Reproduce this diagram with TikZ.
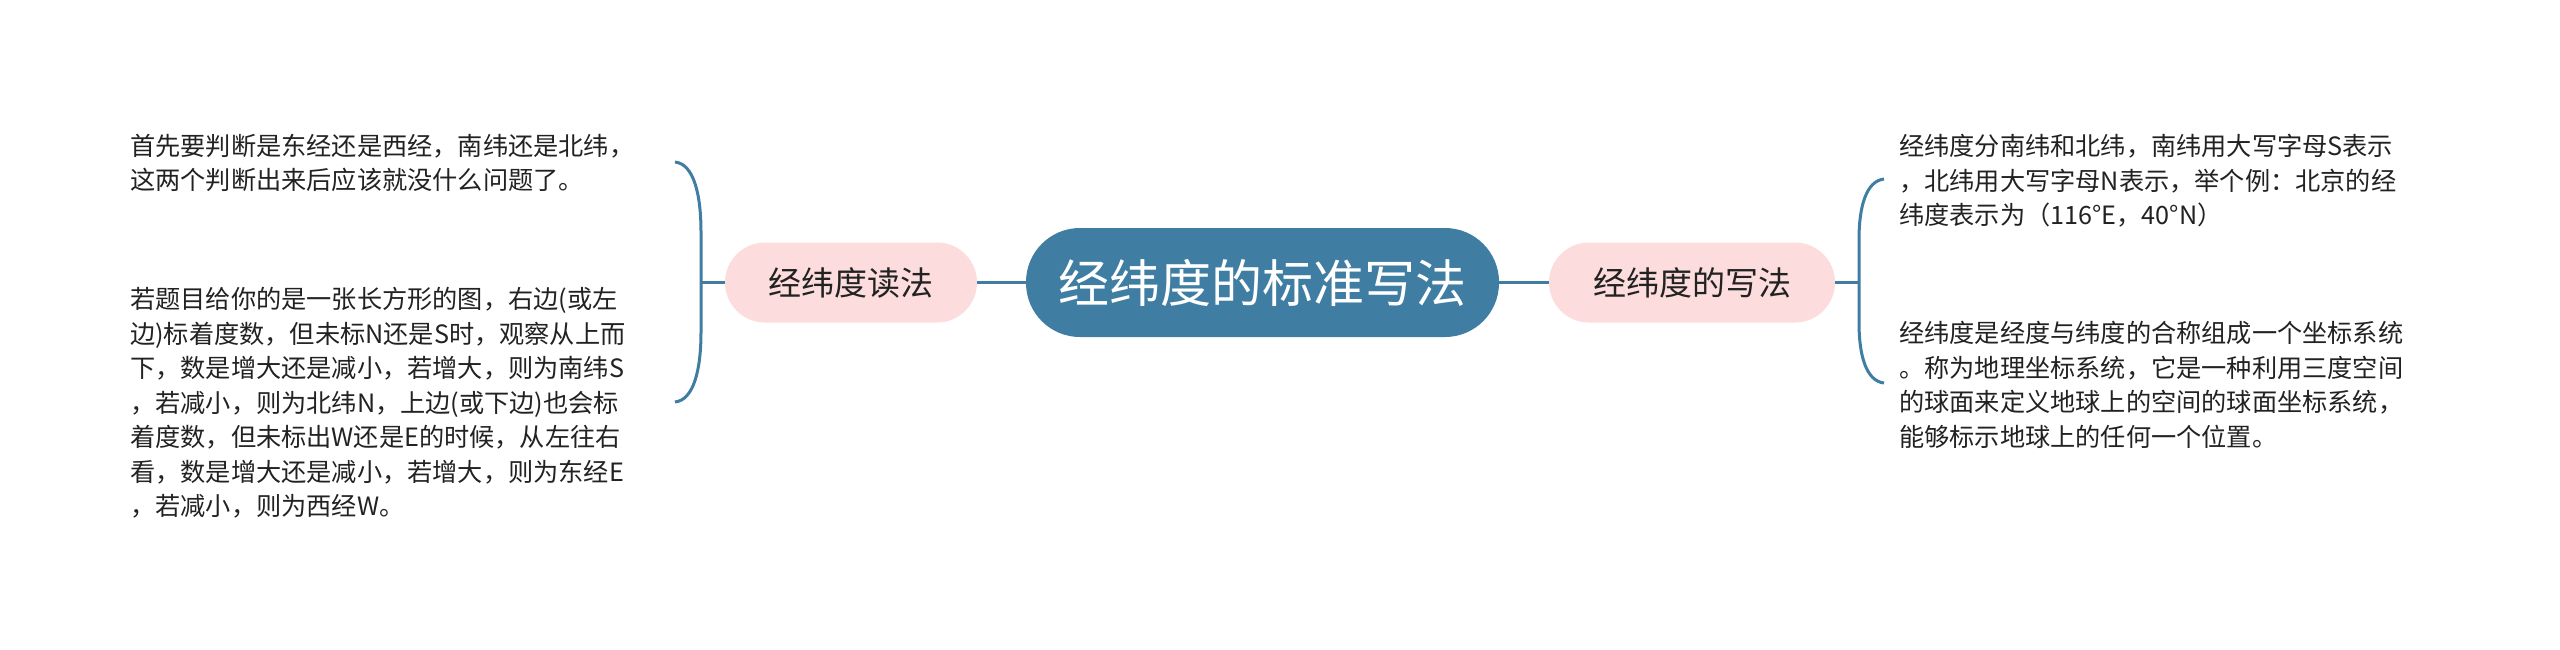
\documentclass[tikz,border=0pt]{standalone}
\usepackage{fontspec}
\setmainfont{Noto Sans CJK SC}
\definecolor{mainblue}{RGB}{63,125,163}
\definecolor{childpink}{RGB}{252,220,220}
\definecolor{leaftext}{RGB}{34,34,34}
\tikzset{
  root/.style={fill=mainblue, text=white, rounded corners=54pt, minimum width=473pt, minimum height=109pt, inner sep=0pt, font=\fontsize{51}{60}\selectfont},
  child/.style={fill=childpink, text=leaftext, rounded corners=40pt, minimum width=252pt, minimum height=80pt, inner sep=0pt, font=\fontsize{33}{40}\selectfont},
  leaf/.style={text=leaftext, inner sep=0pt, align=left, font=\fontsize{25.2}{34.5}\selectfont},
  link/.style={draw=mainblue, line width=3pt},
}
\begin{document}
\begin{tikzpicture}[x=1pt,y=-1pt]
\useasboundingbox[fill=white] (0,0) rectangle (2560,649);
% nodes
\node[root] (c) at (1262.5,282.5) {经纬度的标准写法};
\node[child] (lc) at (851,282.5) {经纬度读法};
\node[child, minimum width=286pt] (rc) at (1692,282.5) {经纬度的写法};
\node[leaf, anchor=west] (l1) at (130,163) {首先要判断是东经还是西经，南纬还是北纬，\\这两个判断出来后应该就没什么问题了。};
\node[leaf, anchor=west] (l2) at (130,403) {若题目给你的是一张长方形的图，右边(或左\\边)标着度数，但未标N还是S时，观察从上而\\下，数是增大还是减小，若增大，则为南纬S\\，若减小，则为北纬N，上边(或下边)也会标\\着度数，但未标出W还是E的时候，从左往右\\看，数是增大还是减小，若增大，则为东经E\\，若减小，则为西经W。};
\node[leaf, anchor=west] (r1) at (1899,181) {经纬度分南纬和北纬，南纬用大写字母S表示\\，北纬用大写字母N表示，举个例：北京的经\\纬度表示为（116°E，40°N）};
\node[leaf, anchor=west] (r2) at (1899,385) {经纬度是经度与纬度的合称组成一个坐标系统\\。称为地理坐标系统，它是一种利用三度空间\\的球面来定义地球上的空间的球面坐标系统，\\能够标示地球上的任何一个位置。};
% bracket coordinates
\coordinate (lt) at (675,162);
\coordinate (lts) at (701,232);
\coordinate (lm) at (701,282.5);
\coordinate (lbs) at (701,332);
\coordinate (lb) at (675,402);
\coordinate (rt) at (1884,179);
\coordinate (rts) at (1859,239);
\coordinate (rm) at (1859,282.5);
\coordinate (rbs) at (1859,323);
\coordinate (rb) at (1884,383);
% connectors
\draw[link] (lc.east) -- (c.west);
\draw[link] (c.east) -- (rc.west);
\draw[link] (lm) -- (lc.west);
\draw[link] (rc.east) -- (rm);
\draw[link] (lt) .. controls (694,164) and (701,195) .. (lts) -- (lbs) .. controls (701,369) and (694,400) .. (lb);
\draw[link] (rt) .. controls (1866,181) and (1859,207) .. (rts) -- (rbs) .. controls (1859,355) and (1866,381) .. (rb);
\end{tikzpicture}
\end{document}
